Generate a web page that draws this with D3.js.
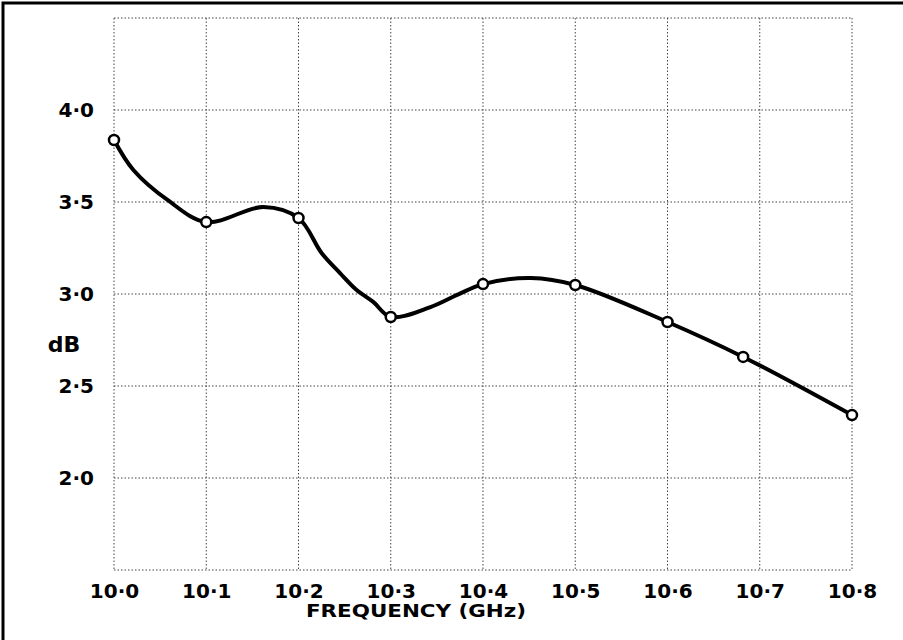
<!DOCTYPE html>
<html>
<head>
<meta charset="utf-8">
<script src="https://cdn.jsdelivr.net/npm/d3@7/dist/d3.min.js"></script>
<style>
  html, body { margin: 0; padding: 0; background: #fff; }
  svg { display: block; }
  text { font-family: "DejaVu Sans", "Liberation Sans", sans-serif; fill: #000; }
</style>
</head>
<body>
<svg id="chart" width="903" height="640"></svg>
<script>
// Measured points (frequency in GHz, loss in dB)
const freqs = [10.0, 10.1, 10.2, 10.3, 10.4, 10.5, 10.6, 10.682, 10.8];
const dbValues = [3.837, 3.391, 3.413, 2.875, 3.054, 3.049, 2.848, 2.658, 2.342];

// Hand-drawn smooth curve
const curveFreqs = [10.0, 10.021, 10.058, 10.1, 10.162, 10.2, 10.225, 10.245, 10.263, 10.281, 10.3, 10.343, 10.372, 10.4, 10.452, 10.5, 10.6, 10.682, 10.8];
const curveDb    = [3.837, 3.674, 3.511, 3.391, 3.473, 3.413, 3.223, 3.114, 3.022, 2.957, 2.875, 2.929, 2.995, 3.054, 3.087, 3.049, 2.848, 2.658, 2.342];

// Axis ticks
const xTicks = [10.0, 10.1, 10.2, 10.3, 10.4, 10.5, 10.6, 10.7, 10.8];
const xTickLabels = ["10·0", "10·1", "10·2", "10·3", "10·4", "10·5", "10·6", "10·7", "10·8"];
const yGrid = [1.5, 2.0, 2.5, 3.0, 3.5, 4.0, 4.5];
const yTicks = [2.0, 2.5, 3.0, 3.5, 4.0];
const yTickLabels = ["2·0", "2·5", "3·0", "3·5", "4·0"];

const svg = d3.select("#chart");
const W = 903, H = 640;
const margin = { left: 114, top: 18, right: 903 - 852, bottom: 640 - 570 };

const x = d3.scaleLinear().domain([10.0, 10.8]).range([margin.left, W - margin.right]);
const y = d3.scaleLinear().domain([1.5, 4.5]).range([H - margin.bottom, margin.top]);

// Outer frame
svg.append("rect")
  .attr("x", 3).attr("y", 3)
  .attr("width", W + 10).attr("height", H + 10)
  .attr("fill", "none").attr("stroke", "#000").attr("stroke-width", 3);

// Grid
const grid = svg.append("g").attr("stroke", "#444").attr("stroke-width", 1)
  .attr("stroke-dasharray", "1.5,2");
grid.selectAll("line.v").data(xTicks).join("line")
  .attr("class", "v")
  .attr("x1", d => x(d)).attr("x2", d => x(d))
  .attr("y1", y(4.5)).attr("y2", y(1.5));
grid.selectAll("line.h").data(yGrid).join("line")
  .attr("class", "h")
  .attr("x1", x(10.0)).attr("x2", x(10.8))
  .attr("y1", d => y(d)).attr("y2", d => y(d));

// Axes via d3 axis generators (domain/tick lines hidden, labels only)
const xAxis = d3.axisBottom(x).tickValues(xTicks)
  .tickFormat((d, i) => xTickLabels[i]).tickSize(0).tickPadding(14);
const gx = svg.append("g").attr("transform", `translate(0,${y(1.5)})`).call(xAxis);
gx.select(".domain").remove();
gx.selectAll("text").attr("font-size", 20).attr("font-weight", "bold")
  .attr("font-family", "DejaVu Sans, sans-serif").attr("fill", "#000");

const yAxis = d3.axisLeft(y).tickValues(yTicks)
  .tickFormat((d, i) => yTickLabels[i]).tickSize(0).tickPadding(20);
const gy = svg.append("g").attr("transform", `translate(${x(10.0)},0)`).call(yAxis);
gy.select(".domain").remove();
gy.selectAll("text").attr("font-size", 20).attr("font-weight", "bold")
  .attr("font-family", "DejaVu Sans, sans-serif").attr("fill", "#000");

// Axis titles
svg.append("text")
  .attr("x", 64).attr("y", y(2.72))
  .attr("text-anchor", "middle").attr("dominant-baseline", "middle")
  .attr("font-size", 22).attr("font-weight", "bold")
  .text("dB");

svg.append("text")
  .attr("x", 306).attr("y", 617)
  .attr("font-size", 17).attr("font-weight", "bold")
  .attr("textLength", 220).attr("lengthAdjust", "spacingAndGlyphs")
  .text("FREQUENCY (GHz)");

// Curve
const line = d3.line()
  .x(d => x(d[0])).y(d => y(d[1]))
  .curve(d3.curveCatmullRom.alpha(0.5));
svg.append("path")
  .datum(curveFreqs.map((f, i) => [f, curveDb[i]]))
  .attr("d", line)
  .attr("fill", "none").attr("stroke", "#000")
  .attr("stroke-width", 4).attr("stroke-linejoin", "round").attr("stroke-linecap", "round");

// Points
svg.selectAll("circle.pt").data(freqs.map((f, i) => [f, dbValues[i]])).join("circle")
  .attr("class", "pt")
  .attr("cx", d => x(d[0])).attr("cy", d => y(d[1]))
  .attr("r", 5)
  .attr("fill", "#fff").attr("stroke", "#000").attr("stroke-width", 2.5);
</script>
</body>
</html>
